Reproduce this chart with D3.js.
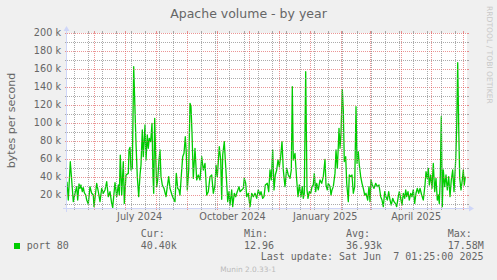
<!DOCTYPE html>
<html>
<head>
<meta charset="utf-8">
<script src="https://cdn.jsdelivr.net/npm/d3@7/dist/d3.min.js"></script>
<style>
  body { margin: 0; background: #f0f0f0; }
  svg { display: block; }
  text { font-family: "DejaVu Sans", sans-serif; fill: #666666; }
  .mono { font-family: "DejaVu Sans Mono", monospace; }
</style>
</head>
<body>
<svg id="chart" width="497" height="280"></svg>
<script>
// Munin "Apache volume - by year" graph (rrdtool look-alike)

// --- DATA ---
const chartTitle = 'Apache volume - by year';
const unitLabel = 'bytes per second';
const seriesName = 'port 80';
const statNames = ['Cur:', 'Min:', 'Avg:', 'Max:'];
const statValues = ['40.40k', '12.96', '36.93k', '17.58M'];
const lastUpdate = 'Last update: Sat Jun  7 01:25:00 2025';
const version = 'Munin 2.0.33-1';
const watermark = 'RRDTOOL / TOBI OETIKER';

// graph time window (one consolidated sample per pixel step, 400 steps)
const rangeStart = Date.UTC(2024, 4, 4, 22, 30);
const rangeEnd = Date.UTC(2025, 5, 5, 10, 30);
const steps = 400;

// sample step index and value in kB/s
const sampleIdx = [
  0, 1.3, 3.3, 6.3, 8, 9.7, 10.7, 12, 13, 14, 15.3, 16.3, 17.3, 18.7, 19.7, 21.3, 23, 24.7, 26.3, 27,
  29.7, 31.3, 33, 34.7, 36.3, 38, 39.7, 41.3, 43, 44.7, 45.7, 47, 48, 49.7, 51.3, 52.3, 53.3, 54.7, 56.3, 57.3,
  59, 61.3, 62, 63, 64, 65.3, 66.7, 68, 69, 70.3, 71.7, 73, 74, 75.3, 76.3, 78, 79, 80.3, 81.3, 82.3,
  83.7, 85, 86, 86.7, 87.7, 88.7, 89.7, 90.7, 92, 93, 94, 95.3, 97, 99, 100.3, 101.7, 103, 105, 107, 108,
  109.3, 110.7, 112, 113, 114.7, 115.7, 117, 118.3, 119.3, 120.3, 121.7, 123, 124, 125,
  126.3, 128, 129.7, 131.3, 133, 134.7, 136.3, 138, 139.7, 141.3, 143, 144.7, 146.3, 148, 149, 150.3, 152.3, 153.7, 154.7, 155.7,
  157.3, 158.3, 159.7, 160.7, 162, 163, 164.7, 165.7, 167.3, 168.7, 170.3, 172, 173, 174.7, 176.3, 177.3, 178.7, 179.7, 181.3, 183,
  184.7, 186.3, 188, 189.7, 191.3, 193, 194, 195.7, 197, 198.3, 200.3, 201.7, 203, 204.3, 205.7, 207, 208.3, 209.7, 211, 212.3,
  213.7, 215, 216.3, 218, 219.7, 221.3, 223, 224.3, 225.3, 226.3, 228, 229.7, 231, 232.3, 234, 235.3, 236.3, 237.3, 238.7, 240,
  241, 242.3, 243.7, 245, 246.3, 247.3, 248.7, 249.7, 251.3, 253, 254.7, 256.3, 258, 259, 260.3, 261.3, 263, 264, 265, 266.3,
  268, 269, 270.3, 271.3, 272, 273, 274, 275.3, 276.3, 277.3, 278.7, 279.7, 281.3, 282.3, 283.7, 285, 286.3, 287.7, 289, 290,
  291.3, 292.3, 293.7, 295, 296.3, 297.7, 299, 300.7, 302, 303, 304, 305.3, 307, 308.7, 310.3, 312, 313.7, 315, 316.3, 317.7,
  319, 320.3, 321.7, 323, 324.3, 325.7, 327, 328.3, 329.7, 331.3, 332.3, 333.7, 335, 336.3, 337.7, 338.7, 339.7, 341, 342.3, 343.7,
  345, 346.3, 347.7, 349, 350.3, 351.7, 353, 354.7, 356.3, 358, 359, 360.3, 361.3, 362.3, 363.7, 365, 366.3, 367.7, 369, 370.3,
  371.3, 372.3, 373.3, 374.3, 375.3, 376.3, 377.7, 379, 380.3, 381.7, 383, 384.3, 385.7, 387, 388.7, 389.7, 390.7, 391.7, 392.7, 394,
  395.3, 396.3, 397.3, 398.3
];
const bytesK = [
  34.8, 14.4, 57, 12.6, 21.9, 29.3, 14.4, 32.2, 27.4, 31.1, 23.7, 28.1, 22.6, 20, 14.4, 10, 29.3, 21.9, 20, 7,
  33, 23.7, 12.6, 27.4, 21.9, 25.6, 34.8, 18.1, 23.7, 10.7, 6, 21.9, 33.7, 18.1, 31.1, 20, 64.4, 20, 57, 10.7,
  42.2, 44, 70, 73, 47.8, 49.6, 162.6, 114.4, 77.4, 40.4, 18.1, 42.2, 53.3, 92.2, 62.6, 97.8, 58.9, 86.7, 71.9, 83,
  79.3, 99.6, 40.4, 21.9, 105.2, 62.6, 29.3, 36.7, 58.9, 70, 40.4, 31.1, 27.4, 18.1, 29.3, 40.4, 27.4, 20, 14.4, 12.6,
  44, 27.4, 25.6, 20, 47.8, 62.6, 66.3, 84.8, 66.3, 25.6, 47.8, 121.9, 118.1, 88.5,
  38.5, 71.9, 36.7, 42.2, 36.7, 62.6, 47.8, 55.2, 20, 23.7, 40.4, 42.2, 21.9, 31.1, 53.3, 40.4, 73.7, 58.9, 15.2, 64.4,
  79.3, 58.9, 33, 12.6, 23.7, 8.9, 25.6, 7, 21.9, 18.1, 23.7, 29.3, 23.7, 25.6, 27.4, 38.5, 33, 18.1, 21.9, 7,
  21.9, 18.1, 21.9, 16.3, 25.6, 20, 23.7, 16.3, 18.1, 31.1, 33, 23.7, 47.8, 36.7, 70, 25.6, 42.2, 47.8, 58.9, 51.5,
  62.6, 79.3, 47.8, 29.3, 49.6, 42.2, 38.5, 47.8, 140.4, 58.9, 66.3, 36.7, 18.1, 31.1, 18.1, 29.3, 16.3, 21.9, 157, 25.6,
  16.3, 23.7, 21.9, 29.3, 31.1, 44, 23.7, 33, 25.6, 36.7, 33, 40.4, 59.6, 31.1, 25.6, 33, 29.3, 20, 25.6, 29.3,
  44, 70, 49.6, 73.7, 94.1, 71.9, 88.5, 137.4, 114.4, 57, 62.6, 33, 12.6, 42.2, 40.4, 42.2, 21.9, 29.3, 118.1, 55.2,
  68.1, 53.3, 40.4, 33, 27.4, 20, 21.9, 14.4, 29.3, 12.6, 36.7, 31.1, 27.4, 33, 29.3, 31.1, 18.1, 14.4, 7, 23.7,
  18.1, 14.4, 23.7, 14.4, 8.9, 16.3, 12.6, 10.7, 7, 18.1, 23.7, 16.3, 8.9, 21.9, 16.3, 25.6, 18.1, 23.7, 14.4, 21.9,
  18.1, 25.6, 10.7, 21.9, 27.4, 21.9, 27.4, 20, 14.4, 31.1, 45.9, 38.5, 49.6, 31.1, 42.2, 27.4, 55.2, 23.7, 38.5, 14.4,
  20, 10.7, 40.4, 107, 7, 47.8, 29.3, 42.2, 25.6, 40.4, 18.1, 36.7, 47.8, 23.7, 58.9, 95.9, 167, 95.9, 38.5, 25.6,
  36.7, 47.8, 31.1, 40.4
];

// --- LAYOUT ---
const W = 497, H = 280;
const X0 = 67, X1 = 467, Y0 = 208, Y1 = 33;
const yMin = 5556, yMax = 200000;
const gridCol = 'rgba(143,143,143,0.75)';
const mgridCol = 'rgba(222,79,79,0.6)';
const axisCol = '#cfd6f8';
const lineCol = '#00cc00';

const svg = d3.select('#chart');
svg.append('rect').attr('width', W).attr('height', H).attr('fill', '#f0f0f0');
svg.append('rect').attr('x', X0).attr('y', Y1).attr('width', X1 - X0).attr('height', Y0 - Y1).attr('fill', '#ffffff');

const step = (rangeEnd - rangeStart) / steps;
const data = sampleIdx.map((s, i) => ({ t: new Date(rangeStart + s * step), v: bytesK[i] * 1000 }));

const x = d3.scaleUtc().domain([new Date(rangeStart), new Date(rangeEnd)]).range([X0, X1]);
const y = d3.scaleLinear().domain([yMin, yMax]).range([Y0, Y1]);
const px = v => Math.round(v) + 0.5;

// data line
svg.append('path')
  .datum(data)
  .attr('fill', 'none')
  .attr('stroke', lineCol)
  .attr('stroke-width', 1.3)
  .attr('stroke-linejoin', 'round')
  .attr('d', d3.line().x(d => x(d.t)).y(d => y(d.v)));

// horizontal grid
const yTicks = y.ticks(20);
const grid = svg.append('g');
yTicks.forEach(v => {
  const major = v % 20000 === 0;
  const yy = px(y(v));
  const col = major ? mgridCol : gridCol;
  grid.append('line').attr('x1', X0 - 2).attr('x2', X0).attr('y1', yy).attr('y2', yy).attr('stroke', col);
  grid.append('line').attr('x1', X1).attr('x2', X1 + 2).attr('y1', yy).attr('y2', yy).attr('stroke', col);
  grid.append('line').attr('x1', X0).attr('x2', X1).attr('y1', yy).attr('y2', yy)
    .attr('stroke', col).attr('stroke-dasharray', '1,1');
  if (major) {
    svg.append('text')
      .attr('x', 61).attr('y', y(v) + 3.4)
      .attr('text-anchor', 'end')
      .style('font-size', '9.7px')
      .text(`${v / 1000} k`);
  }
});

// vertical grid: every second week from the week start (minor), months (major)
const t0 = new Date(rangeStart), t1 = new Date(rangeEnd);
const months = d3.utcMonth.range(t0, t1);
const weeks = d3.utcWeek.every(1).range(d3.utcWeek.floor(t0), t1)
  .filter((w, i) => i % 2 === 0 && w >= t0 && !months.some(m => +m === +w));
[[weeks, gridCol], [months, mgridCol]].forEach(([ticks, col]) => {
  ticks.forEach(t => {
    const xx = px(x(t));
    grid.append('line').attr('x1', xx).attr('x2', xx).attr('y1', Y1 - 2).attr('y2', Y1).attr('stroke', col);
    grid.append('line').attr('x1', xx).attr('x2', xx).attr('y1', Y0).attr('y2', Y0 + 2).attr('stroke', col);
    grid.append('line').attr('x1', xx).attr('x2', xx).attr('y1', Y1).attr('y2', Y0)
      .attr('stroke', col).attr('stroke-dasharray', '1,1');
  });
});

// quarter labels, centred half a month after the tick
const fmt = d3.utcFormat('%B %Y');
months.filter(m => m.getUTCMonth() % 3 === 0).forEach(m => {
  svg.append('text')
    .attr('x', x(d3.utcDay.offset(m, 15)))
    .attr('y', 220)
    .attr('text-anchor', 'middle')
    .style('font-size', '9.7px')
    .text(fmt(m));
});

// axes with arrows
svg.append('line').attr('x1', X0 - 4).attr('x2', X1 + 4).attr('y1', Y0 + 0.5).attr('y2', Y0 + 0.5).attr('stroke', axisCol);
svg.append('line').attr('x1', X0 - 0.5).attr('x2', X0 - 0.5).attr('y1', Y0 + 4).attr('y2', Y1 - 4).attr('stroke', axisCol);
svg.append('path').attr('fill', axisCol)
  .attr('d', `M${X1 + 2},${Y0 - 2.5}L${X1 + 2},${Y0 + 3.5}L${X1 + 7},${Y0 + 0.5}Z`);
svg.append('path').attr('fill', axisCol)
  .attr('d', `M${X0 - 3.5},${Y1 - 2}L${X0 + 2.5},${Y1 - 2}L${X0 - 0.5},${Y1 - 7}Z`);

// title, unit label, watermarks
svg.append('text').attr('x', 248.5).attr('y', 18).attr('text-anchor', 'middle')
  .style('font-size', '12.5px').text(chartTitle);
svg.append('text').attr('transform', 'translate(14.5,120.5) rotate(-90)').attr('text-anchor', 'middle')
  .style('font-size', '11.1px').text(unitLabel);
svg.append('text').attr('transform', 'translate(486.5,6) rotate(90)')
  .style('font-size', '7.6px').style('fill', '#c8c8c8').text(watermark);
svg.append('text').attr('x', 248).attr('y', 271.5).attr('text-anchor', 'middle')
  .style('font-size', '7.4px').style('fill', '#bbbbbb').text(version);

// legend
const colX = [140.7, 244, 346, 447.7];
svg.append('rect').attr('x', 14).attr('y', 243).attr('width', 6).attr('height', 6).attr('fill', lineCol);
svg.append('text').attr('class', 'mono').attr('x', 26.7).attr('y', 248.7).style('font-size', '10px').text(seriesName);
statNames.forEach((n, i) => {
  svg.append('text').attr('class', 'mono').attr('x', colX[i]).attr('y', 237).style('font-size', '10px').text(n);
  svg.append('text').attr('class', 'mono').attr('x', colX[i]).attr('y', 248.7).style('font-size', '10px').text(statValues[i]);
});
svg.append('text').attr('class', 'mono').attr('x', 483.5).attr('y', 260.3).attr('text-anchor', 'end')
  .style('font-size', '10px').style('white-space', 'pre').attr('xml:space', 'preserve').text(lastUpdate);
</script>
</body>
</html>
